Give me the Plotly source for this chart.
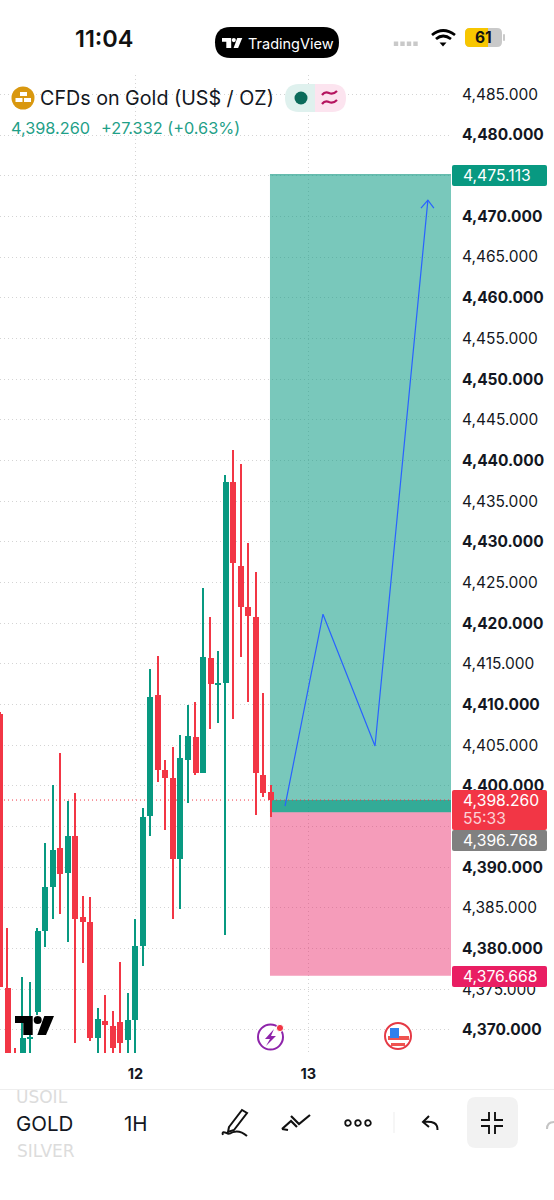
import plotly.graph_objects as go

# ---- data ----
OPEN = [4408.8,4375.2,4366.5,4365.0,4368.9,4372.2,4382.2,4387.6,4392.4,4389.3,4393.8,4383.9,4383.3,4369.0,4371.1,4370.5,4371.0,4368.8,4371.2,4380.3,4396.3,4411.2,4402.0,4401.0,4391.0,4403.2,4406.0,4401.6,4415.7,4412.4,4412.6,4437.4,4427.0,4422.0,4420.8,4401.3,4399.2]
CLOSE = [4375.3,4366.0,4365.5,4369.0,4369.0,4382.2,4387.6,4392.1,4389.2,4393.8,4383.6,4383.3,4369.0,4371.3,4370.6,4367.8,4368.4,4371.2,4380.3,4396.2,4410.9,4402.0,4401.0,4391.0,4403.4,4406.1,4401.6,4415.8,4412.5,4412.5,4437.4,4427.4,4422.0,4420.9,4401.6,4399.1,4398.26]
HIGH = [4409.1,4382.5,4367.8,4376.5,4375.9,4382.5,4393.0,4400.1,4404.0,4398.1,4399.1,4386.5,4386.3,4372.7,4374.3,4372.3,4378.4,4374.5,4383.6,4397.3,4414.4,4416.0,4403.2,4404.8,4406.3,4409.9,4410.3,4424.3,4420.8,4416.6,4438.2,4441.3,4439.6,4429.9,4426.3,4411.4,4400.1]
LOW = [4375.3,4365.0,4364.0,4364.0,4366.0,4371.8,4380.2,4383.6,4384.3,4380.8,4368.4,4378.2,4368.6,4365.0,4365.0,4365.0,4365.0,4365.0,4365.0,4377.9,4393.8,4400.5,4394.6,4383.6,4384.9,4397.9,4401.3,4401.6,4407.0,4407.7,4381.7,4408.2,4415.8,4410.3,4396.4,4398.6,4396.2]
PRICE_TICKS = [4370 + 5 * k for k in range(24)]
HIDDEN_TICKS = [4395, 4475]
DATE_TICKS = [18, 41]
DATE_LABELS = ["12", "13"]
TARGET = 4475.113
CURRENT = 4398.26
ENTRY = 4396.768
STOP = 4376.668
PATH_X = [37.9, 42.95, 49.87, 56.9]
PATH_Y = [4397.5, 4421.1, 4404.9, 4472.0]
HEAD_X = [55.98, 56.9, 57.7]
HEAD_Y = [4471.0, 4472.0, 4471.0]

GREEN = "#089981"
RED = "#f23645"
FONT = "Inter, Roboto, sans-serif"

L, R, T, B = 0, 451, 75, 1053
XMAX = 451 / 7.52
Y_TOP = 4480 + (135 - T) * 0.12291
Y_BOT = 4480 - (B - 135) * 0.12291


def px(x):
    return (x - L) / (R - L)


def py(y):
    return (B - y) / (B - T)


def P(*pts, close=False):
    s = "M " + " L ".join(f"{px(x):.5f} {py(y):.5f}" for x, y in pts)
    return s + (" Z" if close else "")


def rrect(x0, y0, x1, y1, r):
    a, b, c, d = px(x0), py(y0), px(x1), py(y1)
    rx, ry = r / (R - L), r / (B - T)
    return (f"M {a+rx:.5f} {b:.5f} L {c-rx:.5f} {b:.5f} Q {c:.5f} {b:.5f} {c:.5f} {b-ry:.5f} "
            f"L {c:.5f} {d+ry:.5f} Q {c:.5f} {d:.5f} {c-rx:.5f} {d:.5f} L {a+rx:.5f} {d:.5f} "
            f"Q {a:.5f} {d:.5f} {a:.5f} {d+ry:.5f} L {a:.5f} {b-ry:.5f} Q {a:.5f} {b:.5f} {a+rx:.5f} {b:.5f} Z")


def Q(x0, y0, cx, cy, x1, y1):
    return (f"M {px(x0):.5f} {py(y0):.5f} Q {px(cx):.5f} {py(cy):.5f} {px(x1):.5f} {py(y1):.5f}")


shapes, annots = [], []


def fill(path, color):
    shapes.append(dict(type="path", xref="paper", yref="paper", path=path, fillcolor=color, line=dict(width=0), layer="above"))


def stroke(path, color="#111111", w=2):
    shapes.append(dict(type="path", xref="paper", yref="paper", path=path, line=dict(color=color, width=w), layer="above"))


def rect(x0, y0, x1, y1, color):
    shapes.append(dict(type="rect", xref="paper", yref="paper", x0=px(x0), x1=px(x1), y0=py(y0), y1=py(y1), fillcolor=color, line=dict(width=0), layer="above"))


def circ(cx, cy, r, color=None, line=None, w=2):
    shapes.append(dict(type="circle", xref="paper", yref="paper", x0=px(cx - r), x1=px(cx + r), y0=py(cy - r), y1=py(cy + r),
                       fillcolor=color or "rgba(0,0,0,0)", line=dict(color=line or "rgba(0,0,0,0)", width=w if line else 0), layer="above"))


def txt(x, y, s, size, color="#131722", anchor="left", weight=None, family=FONT):
    f = dict(family=family, size=size, color=color)
    if weight:
        f["weight"] = weight
    annots.append(dict(xref="paper", yref="paper", x=px(x), y=py(y), text=s, showarrow=False, xanchor=anchor, yanchor="middle", font=f, borderpad=0, borderwidth=0))


def tv_logo(x, y, s, color):
    fill(P((x, y), (x + 17.7 * s, y), (x + 17.7 * s, y + 19 * s), (x + 8.3 * s, y + 19 * s), (x + 8.3 * s, y + 7 * s), (x, y + 7 * s), close=True), color)
    circ(x + 22.7 * s, y + 4 * s, 4 * s, color)
    fill(P((x + 29.3 * s, y), (x + 39 * s, y), (x + 31 * s, y + 19 * s), (x + 22.3 * s, y + 19 * s), close=True), color)


# position tool zones, between the grid and the candles
for y0, y1, col in [(ENTRY, TARGET, "rgba(8,153,129,0.54)"), (ENTRY, CURRENT, "rgba(8,153,129,0.62)"), (STOP, ENTRY, "rgba(233,30,99,0.44)")]:
    shapes.append(dict(type="rect", xref="x", yref="y", x0=35.9, x1=XMAX, y0=y0, y1=y1, fillcolor=col, line=dict(width=0), layer="between"))
shapes.append(dict(type="line", xref="x", yref="y", x0=35.9, x1=XMAX, y0=TARGET, y1=TARGET, line=dict(color="#3fa998", width=1), layer="between"))
shapes.append(dict(type="line", xref="x", yref="y", x0=0, x1=XMAX, y0=CURRENT, y1=CURRENT, line=dict(color=RED, width=1, dash="1px,3px"), layer="between"))

fig = go.Figure()
idx = list(range(len(OPEN)))
colors = [GREEN if c >= o else RED for o, c in zip(OPEN, CLOSE)]
fig.add_bar(x=idx, base=LOW, y=[h - l for h, l in zip(HIGH, LOW)], width=0.17, marker=dict(color=colors, line=dict(width=0)), showlegend=False, hoverinfo="skip")
fig.add_bar(x=idx, base=[min(o, c) for o, c in zip(OPEN, CLOSE)], y=[max(abs(o - c), 0.25) for o, c in zip(OPEN, CLOSE)], width=0.8,
            marker=dict(color=colors, line=dict(width=0)), showlegend=False, hoverinfo="skip")
fig.add_scatter(x=PATH_X, y=PATH_Y, mode="lines", line=dict(color="#2962ff", width=1.2), showlegend=False, hoverinfo="skip")
fig.add_scatter(x=HEAD_X, y=HEAD_Y, mode="lines", line=dict(color="#2962ff", width=1.2), showlegend=False, hoverinfo="skip")

# price tags
for y0, y1, col in [(165, 186, GREEN), (790, 830, RED), (830, 851, "#808080"), (966, 987, "#e91e63")]:
    fill(rrect(452, y0, 547, y1, 2), col)
TAG = 15.7
txt(463, 175.5, "4,475.113", TAG, "#ffffff")
txt(463, 800.5, "4,398.260", TAG, "#ffffff")
txt(463, 818, "55:33", TAG, "#fbd0d5")
txt(463, 840.5, "4,396.768", TAG, "#ffffff")
txt(463, 976, "4,376.668", TAG, "#ffffff")

# status bar
txt(104, 38, "11:04", 23.5, "#111111", "center", 600)
fill(rrect(215, 27, 339, 58, 15.5), "#000000")
tv_logo(222, 38, 0.52, "#ffffff")
txt(248, 43.5, "TradingView", 14.5, "#ffffff")
for x in (396, 402.5, 409, 415.5):
    rect(x - 2.2, 41.5, x + 2.2, 46, "#c9c9c9")
stroke(Q(432, 35, 443, 26, 455, 35), "#000000", 2.8)
stroke(Q(436, 39, 443, 33, 451, 39), "#000000", 2.8)
fill(P((439.5, 42.5), (446.5, 42.5), (443, 46.5), close=True), "#000000")
fill(rrect(465, 28, 502, 47, 5), "#c9c9c9")
fill(rrect(465, 28, 488, 47, 5), "#f7c600")
rect(480, 28, 488, 47, "#f7c600")
fill(rrect(503, 34, 505, 41, 1), "#c9c9c9")
txt(483, 37.5, "61", 15.5, "#111111", "center", 700)

# legend row
circ(23, 98, 11.5, "#d9980f")
rect(20, 92, 27, 96, "#ffffff")
rect(15.5, 98, 22.5, 102, "#ffffff")
rect(24, 98, 31, 102, "#ffffff")
txt(40, 98, "CFDs on Gold (US$ / OZ)", 19.7, "#131722")
txt(11, 128, "4,398.260", 16.3, "#1fa088")
txt(101, 128, "+27.332 (+0.63%)", 16.3, "#1fa088")
fill(rrect(285, 84, 330, 112, 14), "#dff1ee")
fill(rrect(300, 84, 346, 112, 14), "#fce4ef")
rect(300, 84, 315, 112, "#dff1ee")
circ(301, 98, 6.5, "#0b6b5b")
stroke(Q(322, 95, 325, 91, 329, 93) + " " + Q(329, 93, 333, 95, 337, 91), "#b5145f", 2.2)
stroke(Q(322, 104, 325, 100, 329, 102) + " " + Q(329, 102, 333, 104, 337, 100), "#b5145f", 2.2)

# watermark logo and event icons
tv_logo(15, 1016, 1, "#000000")
circ(270.5, 1037, 12.5, "#ffffff", "#8e24aa", 2)
fill(P((274, 1029), (265, 1039), (270, 1039), (266, 1046), (276, 1036), (271, 1036), close=True), "#8e24aa")
circ(280, 1028, 3.6, RED, "#ffffff", 1)
circ(398, 1036, 13, "#ffffff", "#e53945", 2)
rect(390, 1031, 408, 1034, "#ffffff")
rect(388, 1036, 409, 1040, "#ef5350")
rect(391, 1043, 405, 1046, "#ef5350")
rect(390, 1028, 399, 1038, "#2f80ed")

# toolbar
txt(16, 1096.5, "USOIL", 17, "#dcdcdc", family="DejaVu Sans")
rect(0, 1082, 554, 1089, "#ffffff")
rect(0, 1089, 554, 1090, "#eeeeee")
txt(16, 1123, "GOLD", 20.5, "#131722")
txt(124, 1123, "1H", 20.5, "#131722")
txt(17, 1151, "SILVER", 17, "#dcdcdc", family="DejaVu Sans")
stroke(P((229, 1127), (242, 1110), (247, 1113), (234, 1130), (228, 1132), close=True), "#111111", 2)
stroke(Q(223, 1135, 221, 1130, 229, 1134) + " " + Q(229, 1134, 238, 1128, 247, 1136), "#111111", 2)
stroke(P((282, 1129), (291, 1121), (297, 1127)), "#111111", 2.2)
stroke(P((288, 1130), (282, 1129)), "#111111", 2.2)
stroke(P((291, 1116), (299, 1124), (310, 1115)), "#111111", 2.2)
for x in (348, 358, 368):
    circ(x, 1123, 2.8, "#ffffff", "#111111", 1.8)
rect(393.5, 1112, 394.5, 1133, "#eeeeee")
stroke(P((429, 1116), (423, 1122), (429, 1127)), "#111111", 2)
stroke(Q(423, 1122, 438, 1120, 437.5, 1130), "#111111", 2)
fill(rrect(467, 1097, 518, 1148, 9), "#f2f2f2")
for sx, sy in [(-1, -1), (1, -1), (-1, 1), (1, 1)]:
    stroke(P((492 + sx * 3, 1123 + sy * 11), (492 + sx * 3, 1123 + sy * 3), (492 + sx * 11, 1123 + sy * 3)), "#111111", 1.9)
stroke(Q(547, 1129, 547, 1122, 554, 1122), "#c4c4c4", 2)


def label(v):
    if v in HIDDEN_TICKS:
        return " "
    return f"<b>{v:,.3f}</b>" if v % 10 == 0 else f"{v:,.3f}"


GRID = "#d4d4d4"
fig.update_layout(
    width=554, height=1200, autosize=False,
    margin=dict(l=L, r=554 - R, t=T, b=1200 - B),
    paper_bgcolor="#ffffff", plot_bgcolor="#ffffff",
    barmode="overlay", bargap=0, showlegend=False,
    font=dict(family=FONT, color="#131722"),
    xaxis=dict(range=[0, XMAX], tickvals=DATE_TICKS, ticktext=[f"<b>{t}</b>" for t in DATE_LABELS],
               showgrid=True, gridcolor=GRID, griddash="1px,3px", gridwidth=1, zeroline=False, showline=False,
               ticklen=0, ticklabelstandoff=10, tickfont=dict(family=FONT, size=14.5, color="#131722")),
    yaxis=dict(range=[Y_BOT, Y_TOP], side="right", tickvals=PRICE_TICKS,
               ticktext=[label(v) for v in PRICE_TICKS],
               showgrid=True, gridcolor=GRID, griddash="1px,3px", gridwidth=1, zeroline=False, showline=False,
               ticklen=0, ticklabelstandoff=10, tickfont=dict(family=FONT, size=15.5, color="#131722")),
    shapes=shapes, annotations=annots,
)

fig.write_html("out.html", config={"displayModeBar": False},
               post_script="document.body.style.margin='0';document.body.style.background='#fff';")
